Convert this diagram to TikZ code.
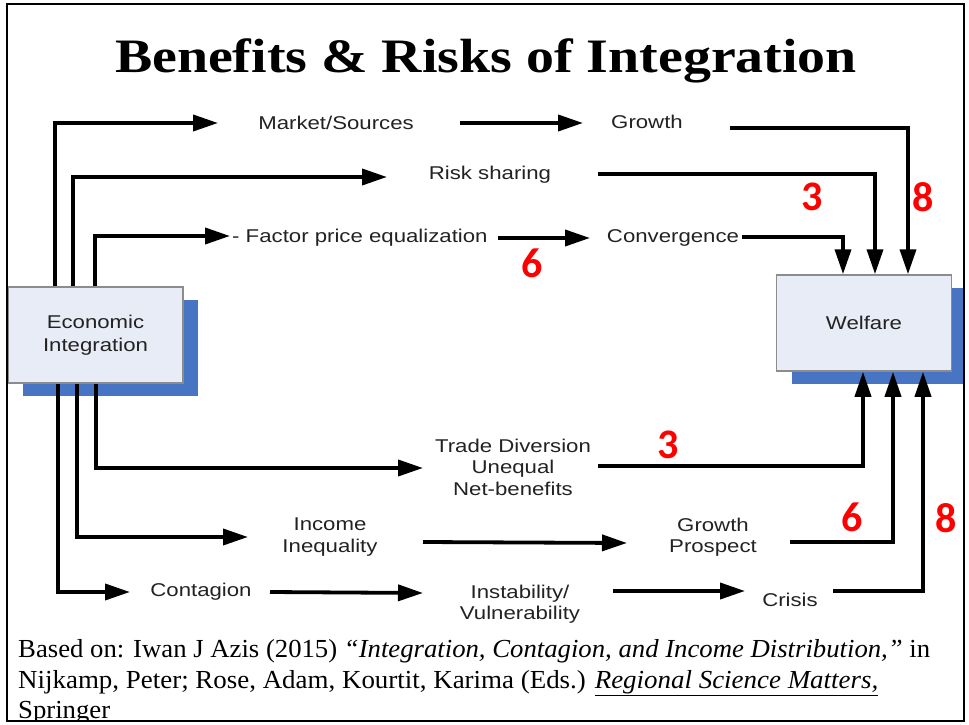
\documentclass[tikz,border=0pt]{standalone}
\usepackage{fontspec}
\usepackage{graphicx}
\setmainfont{Liberation Serif}
\newfontfamily\diagfont[FakeStretch=1.2]{Liberation Sans}
\newfontfamily\numfont{Carlito}
\usetikzlibrary{arrows.meta,shadows}

\definecolor{boxfill}{HTML}{E8ECF6}
\definecolor{boxline}{HTML}{8C8C8C}
\definecolor{shadowblue}{HTML}{4874C4}
\definecolor{labelgray}{HTML}{222222}
\definecolor{numred}{HTML}{FF0000}

\tikzset{
  block/.style={draw=boxline, line width=1.5pt, fill=boxfill,
    minimum width=175pt, minimum height=96pt, inner sep=0pt,
    font=\diagfont\fontsize{18.5}{22.5}\selectfont, text=labelgray, align=center,
    drop shadow={shadow xshift=15pt, shadow yshift=-12.5pt, fill=shadowblue, opacity=1}},
  flowtext/.style={font=\diagfont\fontsize{18.5}{21.5}\selectfont, text=labelgray,
    align=center, inner sep=0pt},
  flow/.style={line width=3.8pt, -{Triangle[length=25pt,width=16pt]}},
  numlabel/.style={font=\numfont\bfseries\fontsize{42}{42}\selectfont, text=numred, inner sep=0pt},
  citeline/.style={anchor=base west, inner sep=0pt, font=\fontsize{26}{28}\selectfont},
}

\begin{document}
\begin{tikzpicture}[x=1pt,y=-1pt]
\useasboundingbox (0,0) rectangle (969,725);

% title
\node[anchor=base, inner sep=0pt] (title) at (486,73)
  {\resizebox{742pt}{\height}{\fontsize{48}{50}\selectfont\bfseries Benefits \& Risks of Integration}};

\begin{scope}
\clip (7,4) rectangle (964,721);

% the two blocks
\node[block] (ei) at (95.5,335) {Economic\\Integration};
\node[block] (wf) at (864,323) {Welfare};

% channel labels
\node[flowtext] (ms) at (336,123) {Market/Sources};
\node[flowtext] (gr) at (647,122) {Growth};
\node[flowtext] (rs) at (490,175) {Risk sharing};
\node[flowtext, anchor=west] (fp) at (232,238) {- Factor price equalization};
\node[flowtext] (cv) at (673,238) {Convergence};

\node[flowtext] (td) at (513,467) {Trade Diversion\\Unequal\\Net-benefits};
\node[flowtext] (ii) at (330,537) {Income\\Inequality};
\node[flowtext] (gp) at (713,537) {Growth\\Prospect};
\node[flowtext] (ct) at (201,592) {Contagion};
\node[flowtext] (iv) at (520,604) {Instability/\\Vulnerability};
\node[flowtext] (cr) at (790,600) {Crisis};

% benefit channels
\draw[flow] ([xshift=-40.5pt]ei.north) |- ([xshift=-118pt]ms.center);
\draw[flow] ([xshift=-22.5pt]ei.north) |- ([xshift=-103pt,yshift=-2pt]rs.center);
\draw[flow] ([xshift=-0.5pt]ei.north) |- ([xshift=-2pt,yshift=2pt]fp.west);
\draw[flow] ([xshift=124pt]ms.center) -- ([xshift=-64pt,yshift=-1pt]gr.center);
\draw[flow] ([xshift=10pt]fp.east) -- ([xshift=-83pt]cv.center);
\draw[flow] ([xshift=83pt,yshift=-6pt]gr.center) -| ([xshift=44pt]wf.north);
\draw[flow] ([xshift=108pt,yshift=1pt]rs.center) -| ([xshift=11pt]wf.north);
\draw[flow] ([xshift=69pt,yshift=1pt]cv.center) -| ([xshift=-21pt]wf.north);

% risk channels
\draw[flow] ([xshift=0.5pt]ei.south) |- ([xshift=-90pt,yshift=-1pt]td.center);
\draw[flow] ([xshift=-18.5pt]ei.south) |- ([xshift=-82pt]ii.center);
\draw[flow] ([xshift=-37.5pt]ei.south) |- ([xshift=-71pt]ct.center);
\draw[flow] ([xshift=69pt]ct.center) -- ([xshift=-97pt,yshift=11pt]iv.center);
\draw[flow] ([xshift=93pt,yshift=-5pt]ii.center) -- ([xshift=-86pt,yshift=-6pt]gp.center);
\draw[flow] ([xshift=93pt,yshift=13pt]iv.center) -- ([xshift=-45pt,yshift=9pt]cr.center);
\draw[flow] ([xshift=85pt,yshift=1pt]td.center) -| ([xshift=-1pt]wf.south);
\draw[flow] ([xshift=77pt,yshift=-5pt]gp.center) -| ([xshift=29pt]wf.south);
\draw[flow] ([xshift=43pt,yshift=9pt]cr.center) -| ([xshift=59pt]wf.south);

% weights
\node[numlabel] (w1) at (812,197) {3};
\node[numlabel] (w2) at (923,197) {8};
\node[numlabel] (w3) at (532,263) {6};
\node[numlabel] (w4) at (668,445) {3};
\node[numlabel] (w5) at (852,517) {6};
\node[numlabel] (w6) at (946,518) {8};

% source note
\node[citeline] (c1) at (18,657)
  {\resizebox{912pt}{\height}{Based on: Iwan J Azis (2015) \textit{“Integration, Contagion, and Income Distribution,”} in}};
\node[citeline] (c2) at (18,688)
  {\resizebox{860pt}{\height}{Nijkamp, Peter; Rose, Adam, Kourtit, Karima (Eds.) \underline{\textit{Regional Science Matters,}}}};
\node[citeline] (c3) at (18,718)
  {\resizebox{92pt}{\height}{\underline{Springer}}};
\end{scope}

% outer frame
\draw[line width=2.5pt] (7,4) rectangle (964,721);
\end{tikzpicture}
\end{document}
